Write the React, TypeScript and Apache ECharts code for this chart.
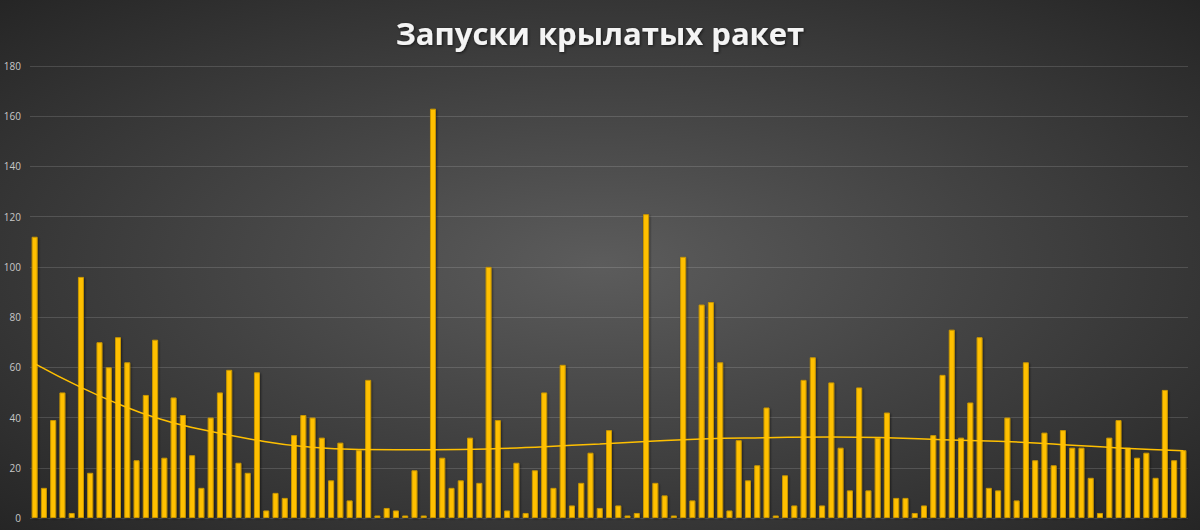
import React, { useEffect, useRef } from "react";
import * as echarts from "echarts";

const TITLE = "Запуски крылатых ракет";

const launches: number[] = [
  112, 12, 39, 50, 2, 96, 18, 70, 60, 72,
  62, 23, 49, 71, 24, 48, 41, 25, 12, 40,
  50, 59, 22, 18, 58, 3, 10, 8, 33, 41,
  40, 32, 15, 30, 7, 27, 55, 1, 4, 3,
  1, 19, 1, 163, 24, 12, 15, 32, 14, 100,
  39, 3, 22, 2, 19, 50, 12, 61, 5, 14,
  26, 4, 35, 5, 1, 2, 121, 14, 9, 1,
  104, 7, 85, 86, 62, 3, 31, 15, 21, 44,
  1, 17, 5, 55, 64, 5, 54, 28, 11, 52,
  11, 32, 42, 8, 8, 2, 5, 33, 57, 75,
  32, 46, 72, 12, 11, 40, 7, 62, 23, 34,
  21, 35, 28, 28, 16, 2, 32, 39, 28, 24,
  26, 16, 51, 23, 27,
];

const categories: string[] = launches.map((_, i) => String(i + 1));

// Trend line at selected bar positions (1-based bar number)
const trendBars: number[] = [1, 6, 10, 14, 18, 25, 30, 36, 44, 50, 56, 62, 67, 73, 80, 87, 93, 99, 108, 113, 118, 125];
const trendValues: number[] = [61.5, 52, 45.5, 40, 36, 31, 28.5, 27.3, 27.2, 27.5, 28.4, 29.5, 30.5, 31.5, 32, 32.3, 32, 31.2, 30.1, 29, 27.9, 26.8];

const yTicks = { min: 0, max: 180, interval: 20 };

export default function App() {
  const ref = useRef<HTMLDivElement>(null);
  useEffect(() => {
    document.body.style.margin = "0";
    const chart = echarts.init(ref.current!, undefined, { renderer: "svg" });
    chart.setOption({
      animation: false,
      backgroundColor: {
        type: "radial",
        x: 0.5,
        y: 0.5,
        r: 0.75,
        colorStops: [
          { offset: 0, color: "#5c5c5c" },
          { offset: 1, color: "#222222" },
        ],
      },
      title: {
        text: TITLE,
        left: "center",
        top: 12,
        textStyle: {
          color: "#f4f4f4",
          fontFamily: "Open Sans",
          fontWeight: "bold",
          fontSize: 31,
          textShadowColor: "rgba(0,0,0,0.6)",
          textShadowBlur: 3,
          textShadowOffsetX: 1,
          textShadowOffsetY: 1,
        },
      },
      grid: { left: 30, right: 12, top: 66, bottom: 12, containLabel: false },
      xAxis: {
        type: "category",
        data: categories,
        boundaryGap: true,
        axisLine: { show: false },
        axisTick: { show: false },
        axisLabel: { show: false },
      },
      yAxis: {
        type: "value",
        min: yTicks.min,
        max: yTicks.max,
        interval: yTicks.interval,
        axisLine: { show: false },
        axisTick: { show: false },
        axisLabel: {
          color: "#c8c8c8",
          fontSize: 10,
          fontFamily: "Open Sans",
          margin: 9,
        },
        splitLine: { lineStyle: { color: "rgba(255,255,255,0.14)", width: 1 } },
      },
      series: [
        {
          type: "bar",
          data: launches,
          barWidth: 6,
          itemStyle: {
            color: "#FFC000",
            borderColor: "#c99700",
            borderWidth: 1,
            shadowColor: "rgba(0,0,0,0.5)",
            shadowBlur: 2,
            shadowOffsetX: 1,
            shadowOffsetY: 1,
          },
          z: 2,
        },
        {
          type: "line",
          data: trendBars.map((b, i) => [b - 1, trendValues[i]]),
          smooth: 0.5,
          symbol: "none",
          lineStyle: { color: "#FFC000", width: 1.5 },
          z: 3,
        },
      ],
    });
    return () => chart.dispose();
  }, []);
  return <div ref={ref} style={{ width: 1200, height: 530 }} />;
}
